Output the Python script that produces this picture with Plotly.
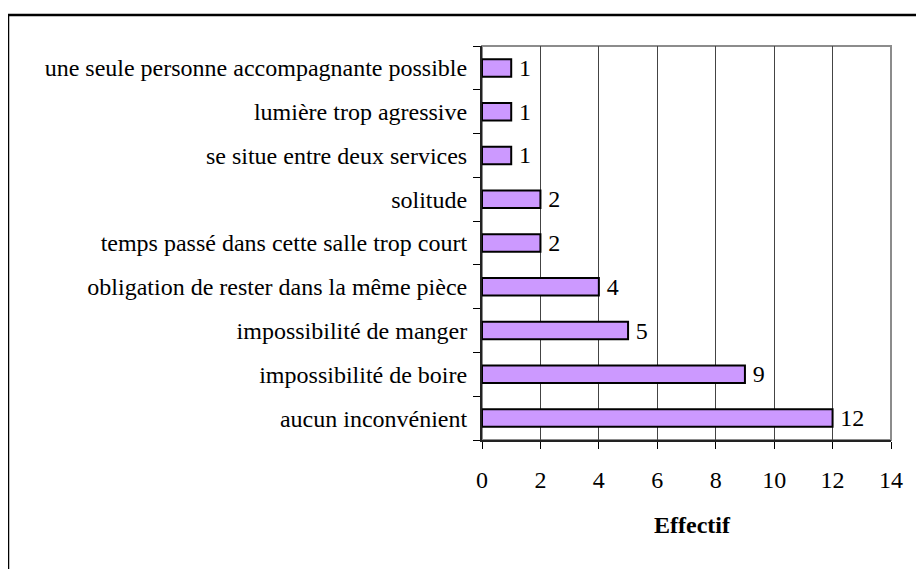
import plotly.graph_objects as go

categories = [
    "aucun inconvénient",
    "impossibilité de boire",
    "impossibilité de manger",
    "obligation de rester dans la même pièce",
    "temps passé dans cette salle trop court",
    "solitude",
    "se situe entre deux services",
    "lumière trop agressive",
    "une seule personne accompagnante possible",
]
values = [12, 9, 5, 4, 2, 2, 1, 1, 1]
x_ticks = [0, 2, 4, 6, 8, 10, 12, 14]
x_title = "Effectif"

FONT = "Liberation Serif"

OFF = 8  # page body margin
W, H = 924 - OFF, 569 - OFF
L, R, T, B = 482 - OFF, 891 - OFF, 46 - OFF, 440 - OFF
pw, ph = R - L, B - T

fig = go.Figure(
    go.Bar(
        y=categories,
        x=values,
        orientation="h",
        marker=dict(color="#CC99FF", line=dict(color="black", width=2)),
        text=["\u2009" + str(v) for v in values],
        textposition="outside",
        constraintext="none",
        textfont=dict(family=FONT, size=24, color="black"),
        cliponaxis=False,
        width=0.40,
    )
)

def px_to_paper_x(px):
    return (px - OFF - L) / pw

def px_to_paper_y(py):
    return (B - (py - OFF)) / ph

fig.update_layout(
    width=W,
    height=H,
    margin=dict(l=L, r=W - R, t=T, b=H - B, pad=0),
    paper_bgcolor="white",
    plot_bgcolor="white",
    showlegend=False,
    font=dict(family=FONT, size=24, color="black"),
    xaxis=dict(
        range=[0, 14],
        tickvals=x_ticks,
        ticktext=[str(v) for v in x_ticks],
        showgrid=True,
        gridcolor="#444444",
        gridwidth=1,
        zeroline=False,
        showline=True,
        linecolor="#222222",
        linewidth=2,
        ticks="outside",
        ticklen=7,
        tickwidth=1,
        tickcolor="black",
        ticklabelstandoff=10,
        tickfont=dict(family=FONT, size=24, color="black"),
    ),
    yaxis=dict(
        categoryorder="array",
        categoryarray=categories,
        range=[-0.5, len(categories) - 0.5],
        showgrid=False,
        zeroline=False,
        showline=True,
        linecolor="#222222",
        linewidth=2,
        ticks="outside",
        tickson="boundaries",
        ticklen=7,
        tickwidth=1,
        tickcolor="black",
        ticklabelstandoff=8,
        tickfont=dict(family=FONT, size=24, color="black"),
    ),
    shapes=[
        dict(
            type="rect", xref="paper", yref="paper",
            x0=0, x1=1, y0=0, y1=1,
            line=dict(color="#8C8C8C", width=2),
            layer="below",
        ),
        dict(
            type="rect", xref="paper", yref="paper",
            x0=px_to_paper_x(8), x1=px_to_paper_x(960),
            y0=px_to_paper_y(610), y1=px_to_paper_y(15),
            line=dict(color="black", width=2.5),
            layer="below",
        ),
    ],
    annotations=[
        dict(
            text="<b>" + x_title + "</b>",
            xref="paper", yref="paper",
            x=px_to_paper_x(692), y=px_to_paper_y(525),
            xanchor="center", yanchor="middle",
            showarrow=False,
            font=dict(family=FONT, size=24, color="black"),
        )
    ],
)

fig.write_html("out.html")
